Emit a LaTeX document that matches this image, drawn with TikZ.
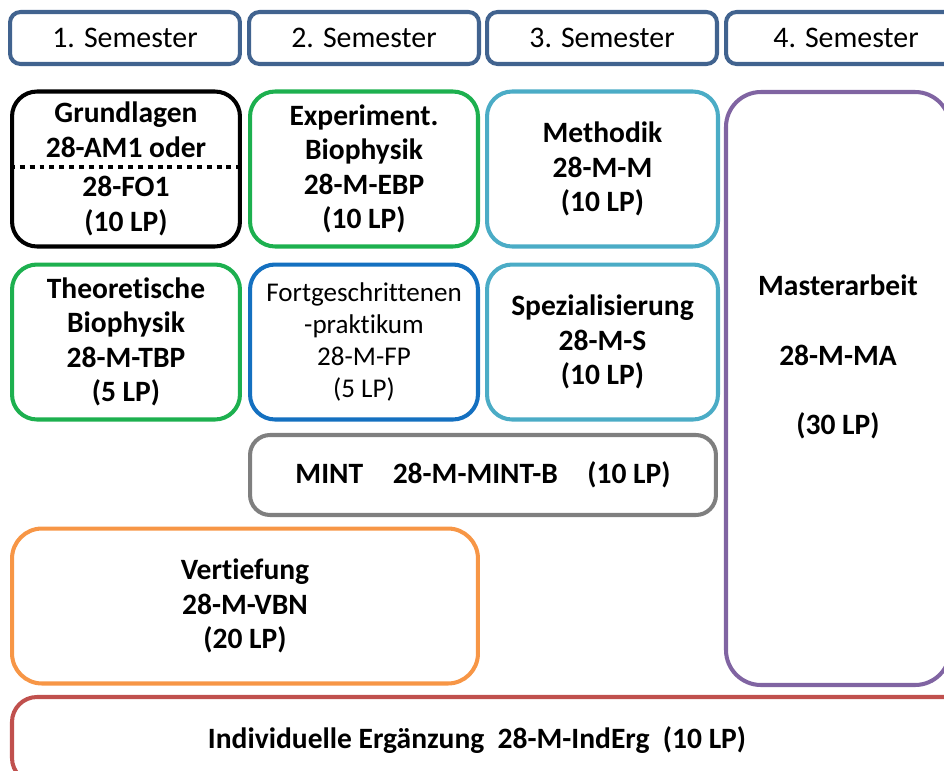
\documentclass[tikz,border=0pt]{standalone}
\usepackage{fontspec}
\setmainfont{Carlito}[Ligatures=NoCommon]
\usetikzlibrary{positioning,fit}

\definecolor{semblue}{HTML}{41638F}
\definecolor{modgreen}{HTML}{1DB04F}
\definecolor{modblue}{HTML}{1470C0}
\definecolor{modteal}{HTML}{4BACC6}
\definecolor{modgray}{HTML}{7F7F7F}
\definecolor{modpurple}{HTML}{8064A2}
\definecolor{modorange}{HTML}{F79646}
\definecolor{modred}{HTML}{C0504D}

\newcommand{\semfont}{\fontsize{17}{20}\selectfont}
\newcommand{\modfont}{\fontsize{16.8}{19.6}\selectfont\bfseries}
\newcommand{\smallmodfont}{\fontsize{15.4}{18.2}\selectfont}

\tikzset{
  sembox/.style={draw=semblue, line width=2.3pt, rounded corners=6pt,
    minimum width=4.6cm, minimum height=1.04cm, font=\semfont},
  modbox/.style={line width=2.3pt, rounded corners=0.5cm, align=center,
    minimum width=4.56cm, minimum height=3.1cm, font=\modfont},
  bigbox/.style={modbox, rounded corners=0.7cm, inner sep=0pt,
    minimum width=0pt, minimum height=0pt},
  plain/.style={align=center, font=\modfont}
}

\begin{document}
\begin{tikzpicture}[x=0.02cm, y=-0.02cm, node distance=0.28cm and 0.2cm]
  \useasboundingbox (0,0) rectangle (944,771);
  % Semester
  \node[sembox] (S1) at (125,38) {1. Semester};
  \node[sembox] (S2) at (364,38) {2. Semester};
  \node[sembox] (S3) at (602,38) {3. Semester};
  \node[sembox, minimum width=4.8cm] (S4) at (846,38) {4. Semester};
  % erste Reihe
  \node[modbox, draw=black] (GL) at (126,169) {Grundlagen\\28-AM1 oder\\[3pt]28-FO1\\(10 LP)};
  \node[modbox, draw=modgreen] (EBP) at (364,169) {Experiment.\\Biophysik\\28-M-EBP\\(10 LP)};
  \node[modbox, draw=modteal, minimum width=4.62cm] (MM) at (602.5,169) {Methodik\\28-M-M\\(10 LP)};
  \coordinate (GLcut) at (0,167);
  \draw[line width=2pt, dash pattern=on 2.8pt off 2.8pt] (GL.west |- GLcut) -- (GL.east |- GLcut);
  % zweite Reihe
  \node[modbox, draw=modgreen, below=0.28cm of GL] (TBP) {Theoretische\\Biophysik\\28-M-TBP\\(5 LP)};
  \node[modbox, draw=modblue, below=0.28cm of EBP, font=\smallmodfont] (FP) {Fortgeschrittenen\\-praktikum\\28-M-FP\\(5 LP)};
  \node[modbox, draw=modteal, minimum width=4.62cm, below=0.28cm of MM] (MS) {Spezialisierung\\28-M-S\\(10 LP)};
  % MINT und Vertiefung
  \node[modbox, draw=modgray, minimum width=9.32cm, minimum height=1.6cm, rounded corners=0.4cm] (MINT) at (483,475)
    {MINT\quad 28-M-MINT-B\quad (10 LP)};
  \node[modbox, draw=modorange, minimum width=9.32cm, rounded corners=0.6cm] (VBN) at (245,606) {Vertiefung\\28-M-VBN\\(20 LP)};
  % Masterarbeit
  \coordinate (MAtl) at (726,92);
  \coordinate (MAbr) at (950,685);
  \node[bigbox, draw=modpurple, fit=(MAtl) (MAbr)] (MA) {};
  \node[plain] (MAtext) at (838,357) {Masterarbeit\\[20pt]28-M-MA\\[20pt](30 LP)};
  % Individuelle Ergaenzung
  \coordinate (INDtl) at (12,697);
  \coordinate (INDbr) at (990,783);
  \node[bigbox, draw=modred, rounded corners=0.5cm, fit=(INDtl) (INDbr)] (IND) {};
  \node[plain] (INDtext) at (477,740) {Individuelle Ergänzung\ \ 28-M-IndErg\ \ (10 LP)};
\end{tikzpicture}
\end{document}
